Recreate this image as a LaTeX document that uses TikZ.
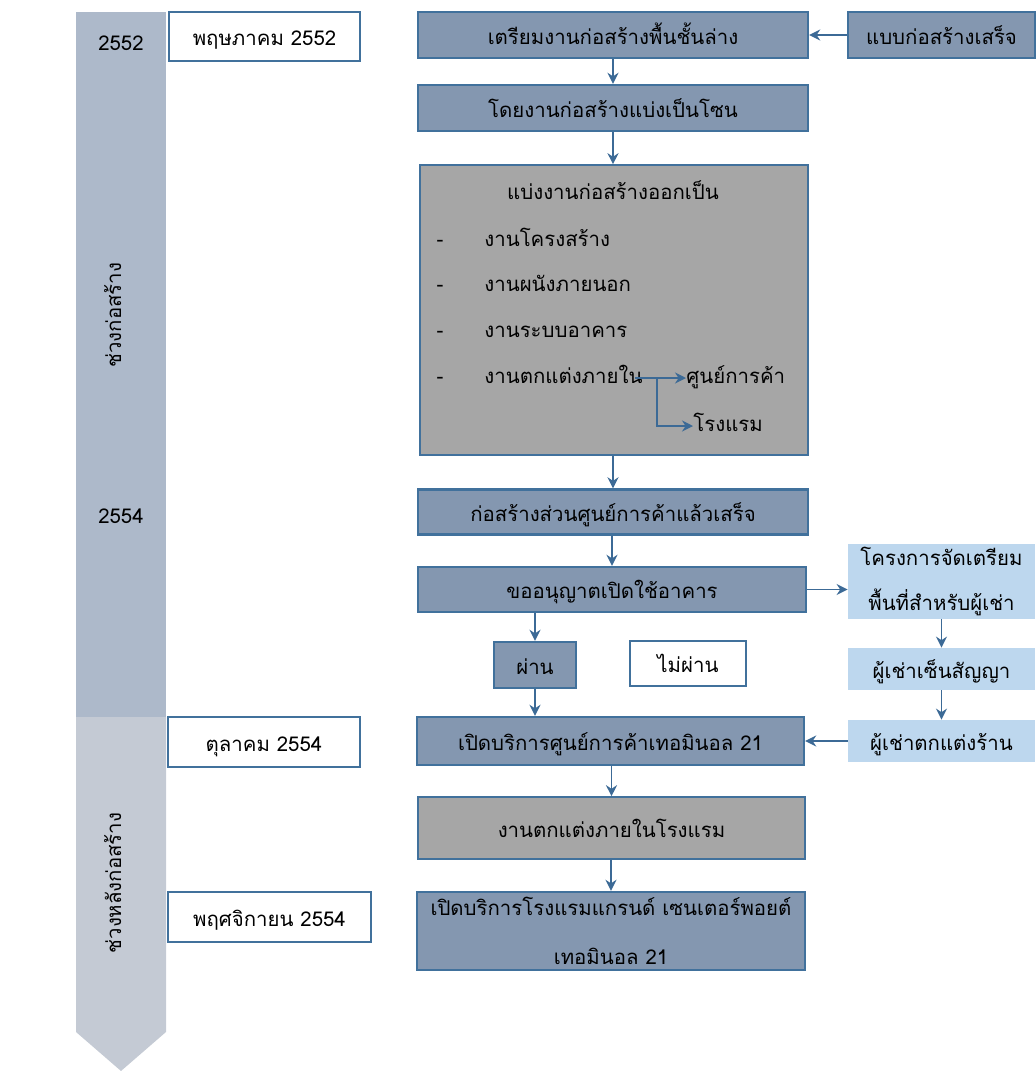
\documentclass[tikz,border=0pt]{standalone}
\usepackage{fontspec}
\setmainfont[Script=Thai]{Loma}
\usetikzlibrary{arrows.meta}
\definecolor{barTop}{HTML}{ADB9CA}
\definecolor{barLow}{HTML}{C4CAD4}
\definecolor{stepFill}{HTML}{8497B0}
\definecolor{stepLine}{HTML}{41719C}
\definecolor{workFill}{HTML}{A6A6A6}
\definecolor{tenantFill}{HTML}{BDD7EE}
\definecolor{flowLine}{HTML}{3C6A96}
\tikzset{
    px size/.style 2 args={minimum width=#1*0.5pt, minimum height=#2*0.5pt},
    box text/.style={inner sep=0pt, text height=10.5pt, text depth=1.5pt},
    free text/.style={text height=, text depth=},
    stepbox/.style={box text, draw=stepLine, line width=1.2pt, fill=stepFill},
    datebox/.style={box text, draw=stepLine, line width=1.2pt, fill=white},
    workbox/.style={box text, draw=stepLine, line width=0.8pt, fill=workFill},
    tenantbox/.style={box text, fill=tenantFill},
    txt/.style={inner sep=0pt, text height=8pt, text depth=3pt},
    flow/.style={draw=flowLine, line width=0.9pt, -{Stealth[length=5.5pt,width=5.5pt]}},
}
\begin{document}
\begin{tikzpicture}[x=0.5pt, y=-0.5pt, font=\fontsize{10.2}{12}\selectfont]
\useasboundingbox (0,0) rectangle (1035,1071);
% timeline bar
\fill[barTop] (76,12) rectangle (166,717);
\fill[barLow] (76,717) -- (166,717) -- (166,1032) -- (121,1071) -- (76,1032) -- cycle;
\node[txt] (y2552) at (121,45) {2552};
\node[txt] (y2554) at (121,518) {2554};
\node[txt, rotate=90] (phase1) at (116,315) {ช่วงก่อสร้าง};
\node[txt, rotate=90] (phase2) at (116,883) {ช่วงหลังก่อสร้าง};
% dates
\node[datebox, px size={191}{49}] (may) at (264.5,36.5) {พฤษภาคม 2552};
\node[datebox, px size={192}{50}] (oct) at (264,742) {ตุลาคม 2554};
\node[datebox, px size={203}{50}] (nov) at (269.5,917) {พฤศจิกายน 2554};
% main steps
\node[stepbox, px size={390}{46}] (prep) at (613,35) {เตรียมงานก่อสร้างพื้นชั้นล่าง};
\node[stepbox, px size={187}{46}] (design) at (941.5,35) {แบบก่อสร้างเสร็จ};
\node[stepbox, px size={390}{46}] (zone) at (613,108) {โดยงานก่อสร้างแบ่งเป็นโซน};
\node[workbox, px size={388}{290}] (split) at (614,310) {};
\node[stepbox, px size={390}{45}] (mallDone) at (613,512) {ก่อสร้างส่วนศูนย์การค้าแล้วเสร็จ};
\node[stepbox, px size={388}{45}] (permit) at (612,589.5) {ขออนุญาตเปิดใช้อาคาร};
\node[stepbox, px size={82}{46}] (pass) at (535,665) {ผ่าน};
\node[datebox, px size={116}{45}] (fail) at (688,663.5) {ไม่ผ่าน};
\node[stepbox, px size={387}{48}] (mallOpen) at (610.5,741) {เปิดบริการศูนย์การค้าเทอมินอล 21};
\node[workbox, px size={387}{62}] (hotelWork) at (611.5,828) {งานตกแต่งภายในโรงแรม};
\node[stepbox, free text, px size={388}{78}, align=center, font=\fontsize{10.2}{24.5}\selectfont] (hotelOpen) at (611,931) {เปิดบริการโรงแรมแกรนด์ เซนเตอร์พอยต์\\เทอมินอล 21};
% tenants
\node[tenantbox, free text, px size={187}{75}, align=center, font=\fontsize{10.2}{22.5}\selectfont] (prepArea) at (941.5,581.5) {โครงการจัดเตรียม\\พื้นที่สำหรับผู้เช่า};
\node[tenantbox, px size={187}{42}] (sign) at (941.5,669) {ผู้เช่าเซ็นสัญญา};
\node[tenantbox, px size={187}{42}] (decor) at (941.5,741) {ผู้เช่าตกแต่งร้าน};
% inside the split box
\node[txt] (splitTitle) at (613,194) {แบ่งงานก่อสร้างออกเป็น};
\foreach \name/\y/\item in {itemFrame/241/งานโครงสร้าง, itemWall/286/งานผนังภายนอก, itemSys/332/งานระบบอาคาร, itemDecor/378/งานตกแต่งภายใน} {
    \node[txt] (dash-\name) at (440,\y) {-};
    \node[txt, anchor=west] (\name) at (484,\y) {\item};
}
\node[txt, anchor=west] (partMall) at (686,378) {ศูนย์การค้า};
\node[txt, anchor=west] (partHotel) at (693,426) {โรงแรม};
\coordinate (fork) at (657,378);
\draw[flow] ([xshift=-4pt]itemDecor.east) -- (partMall.west);
\draw[flow] (fork) |- (partHotel.west);
% connectors
\draw[flow] (design) -- (prep);
\draw[flow] (prep) -- (zone);
\draw[flow] (zone) -- (zone.south |- split.north);
\draw[flow] (split.south -| mallDone.north) -- (mallDone);
\draw[flow] (mallDone.south -| permit.north) -- (permit);
\draw[flow] (permit.east) -- (permit.east -| prepArea.west);
\draw[flow] (permit.south -| pass.north) -- (pass);
\draw[flow] (pass) -- (pass.south |- mallOpen.north);
\draw[flow] (prepArea) -- (sign);
\draw[flow] (sign) -- (decor);
\draw[flow] (decor) -- (mallOpen);
\draw[flow] (mallOpen.south -| hotelWork.north) -- (hotelWork);
\draw[flow] (hotelWork.south -| hotelOpen.north) -- (hotelOpen);
\end{tikzpicture}
\end{document}
